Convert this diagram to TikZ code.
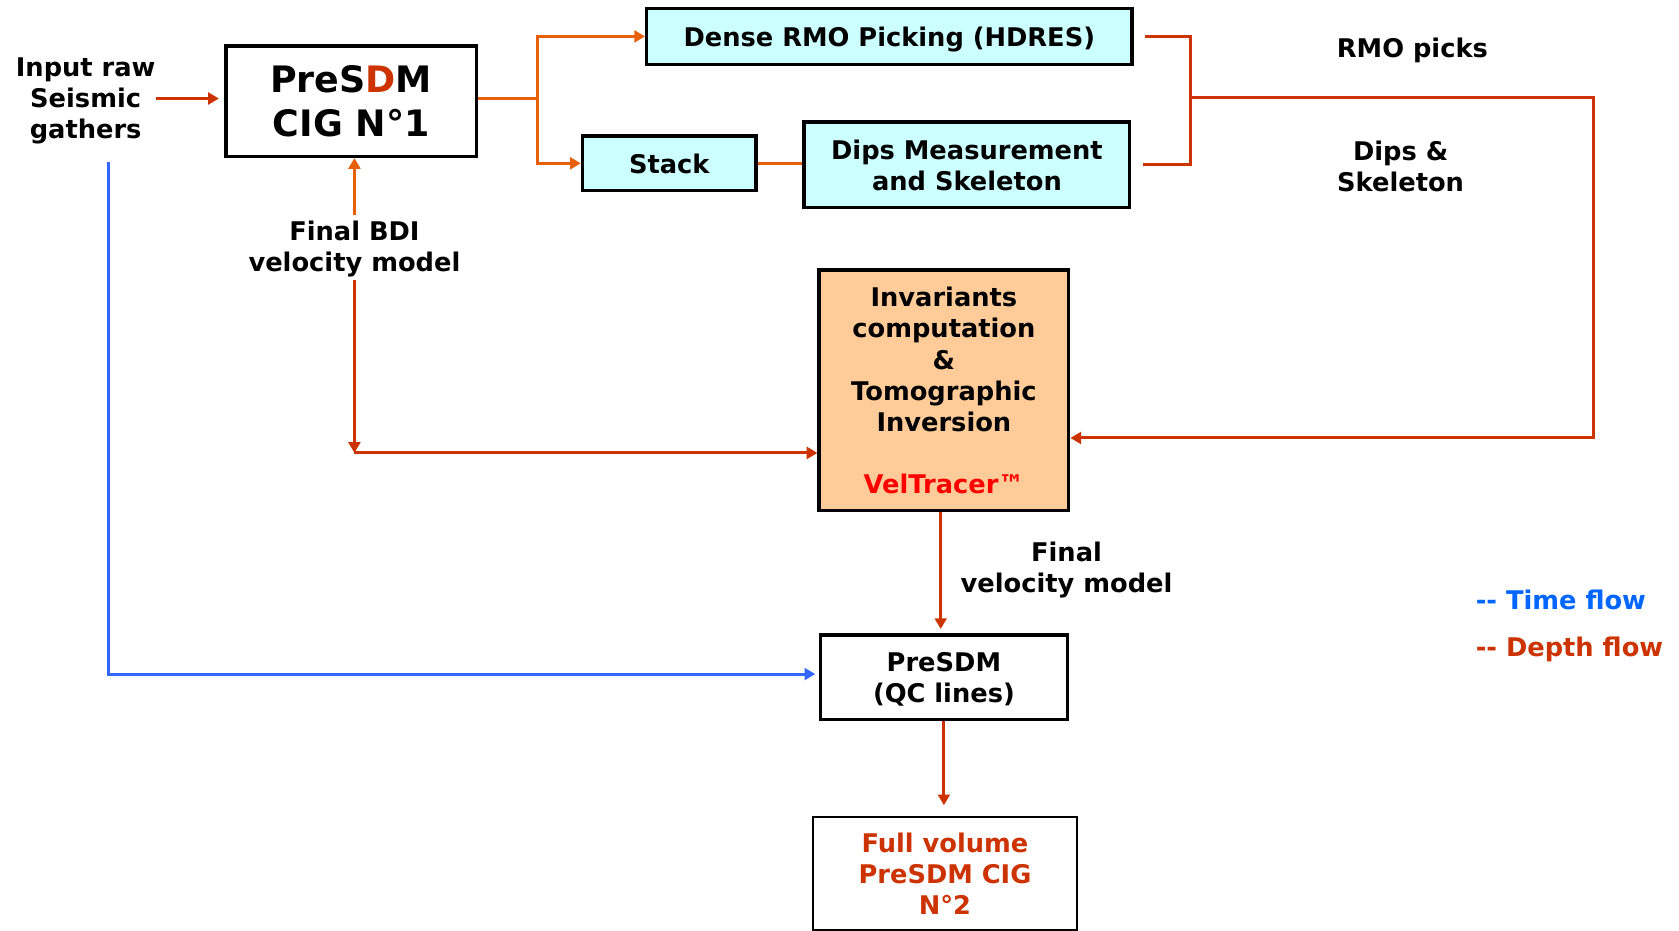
\documentclass[tikz,border=0pt]{standalone}
\usepackage{fontspec}
\setmainfont{DejaVu Sans}
\usetikzlibrary{arrows.meta}
\definecolor{cOr}{RGB}{232,96,10}
\definecolor{cRd}{RGB}{204,51,0}
\definecolor{cBl}{RGB}{51,102,255}
\definecolor{cLb}{RGB}{0,102,255}
\definecolor{cCy}{RGB}{204,255,255}
\definecolor{cPe}{RGB}{255,204,153}
\definecolor{cVt}{RGB}{255,0,0}
\begin{document}
\begin{tikzpicture}[x=1pt,y=-1pt,
 txt/.style={font=\fontsize{24}{29}\selectfont\bfseries, align=center, inner sep=0pt, text depth=0pt},
 box/.style={draw=black, line width=3.2pt, inner sep=0pt, align=center, text depth=0pt, font=\fontsize{24}{29}\selectfont\bfseries},
 cyanbox/.style={box, fill=cCy},
 tip/.style={-{Triangle[length=10pt,width=11pt]}},
 oline/.style={draw=cOr, line width=2.8pt},
 rline/.style={draw=cRd, line width=2.8pt},
 bline/.style={draw=cBl, line width=2.8pt},
]
\path[use as bounding box, fill=white] (0,0) rectangle (1568,869);

% boxes
\node[box, minimum width=234pt, minimum height=103pt, font=\fontsize{34}{41}\selectfont\bfseries] (cig) at (328,94.5) {PreS\textcolor{cRd}{D}M\\CIG N°1};
\node[cyanbox, minimum width=453pt, minimum height=52pt] (dense) at (830.5,34) {Dense RMO Picking (HDRES)};
\node[cyanbox, minimum width=162pt, minimum height=51pt] (stack) at (625,152.5) {Stack};
\node[cyanbox, minimum width=304pt, minimum height=80pt] (dips) at (903,154) {Dips Measurement\\and Skeleton};
\node[box, fill=cPe, minimum width=233pt, minimum height=225pt] (inv) at (881.5,364.5) {Invariants\\computation\\\&\\Tomographic\\Inversion\\[29pt]\textcolor{cVt}{VelTracer™}};
\node[box, minimum width=231pt, minimum height=79pt] (qc) at (881.5,632.5) {PreSDM\\(QC lines)};
\node[box, line width=2pt, minimum width=247pt, minimum height=106pt, text=cRd] (full) at (882.5,816) {Full volume\\PreSDM CIG\\N°2};

% labels
\node[txt] (input) at (80,92) {Input raw\\Seismic\\gathers};
\node[txt] (bdi) at (331,230) {Final BDI\\velocity model};
\node[txt] (rmo) at (1319,45) {RMO picks};
\node[txt] (dsk) at (1308,155) {Dips \&\\Skeleton};
\node[txt] (fvm) at (996,530) {Final\\velocity model};
\node[txt, anchor=west, text=cLb] (lt) at (1378,560) {-{}- Time flow};
\node[txt, anchor=west, text=cRd] (ld) at (1378,604) {-{}- Depth flow};

% junctions
\coordinate (jA) at (502,92);
\coordinate (jB) at (1112,91);
\coordinate (jC) at (1488,91);
\coordinate (jD) at (1488,409);
\coordinate (jE) at (331,423);
\coordinate (tS) at (101,151);

% connectors
\draw[rline, tip, shorten >=5pt] (input.east) -- (input.east -| cig.west);
\draw[oline] (cig.east |- jA) -- (jA);
\draw[oline, tip] (jA) |- (dense.west);
\draw[oline, tip] (jA) |- (stack.west);
\draw[oline] (stack.east) -- (stack.east -| dips.west);
\draw[rline] ([xshift=11pt]dense.east) -| (jB) |- ([xshift=11pt]dips.east);
\draw[rline, tip] (jB) -- (jC) -- (jD) -- (jD -| inv.east);
\draw[oline, tip] ([yshift=5pt]bdi.north) -- (bdi.north |- cig.south);
\draw[rline, tip] ([yshift=-8pt]bdi.south) -- (jE);
\draw[rline, tip] (jE) -- (jE -| inv.west);
\draw[rline, tip, shorten >=4pt] ([xshift=-3pt]inv.south) -- ([xshift=-3pt]qc.north);
\draw[bline, tip, shorten >=3pt] (tS) |- ([yshift=3pt]qc.west);
\draw[rline, tip, shorten >=10pt] (qc.south) -- (qc.south |- full.north);
\end{tikzpicture}
\end{document}
